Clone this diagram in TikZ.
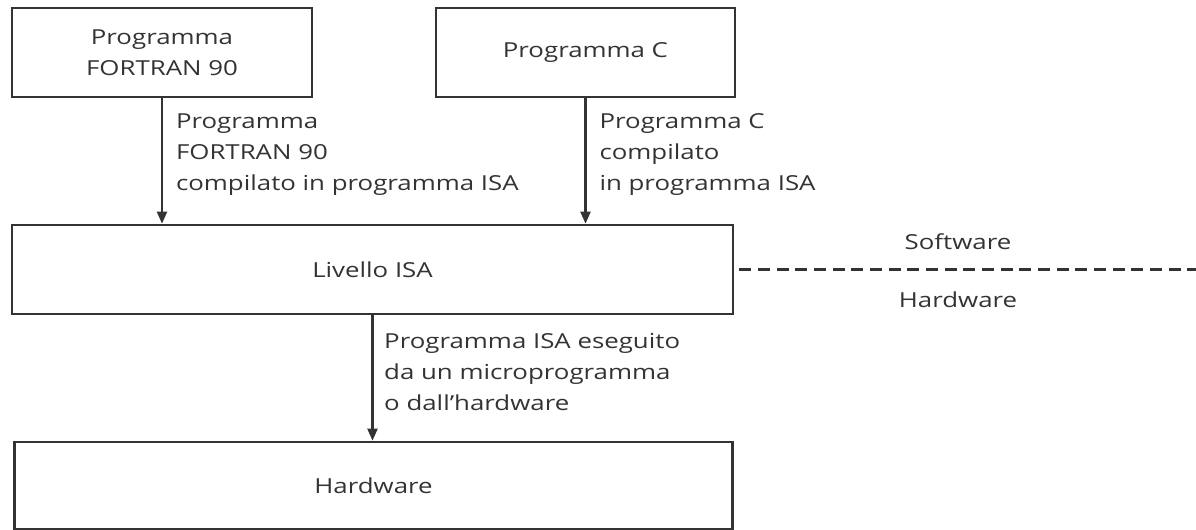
\documentclass[tikz,border=0pt]{standalone}
\usepackage{fontspec}
\setmainfont{Open Sans}[FakeStretch=1.25]
\usetikzlibrary{positioning,arrows.meta}
\definecolor{ink}{HTML}{333333}
\newcommand*{\txt}{\fontsize{15.5}{23.25}\selectfont}
\tikzset{>={Triangle[length=9pt,width=7.5pt]},
  box/.style={draw=ink,line width=2pt,text=ink,align=center,
    inner sep=0pt,font=\txt,minimum height=66.75pt},
  lbl/.style={text=ink,align=left,anchor=west,inner sep=0pt,font=\txt},
  flow/.style={->,draw=ink,line width=1.6pt},
  side/.style={text=ink,inner sep=0pt,font=\txt}}

\begin{document}
\begin{tikzpicture}[x=0.75pt,y=-0.75pt]
\useasboundingbox (0,0) rectangle (1196,529);
% Draw the four levels
\node[box,minimum width=225pt] (fortran) at (162,52.5)
  {Programma\\FORTRAN 90};
\node[box,minimum width=224.25pt] (progc) at (585.5,52.5)
  {Programma C};
\node[box,minimum width=540.75pt] (isa) at (372.5,269.5)
  {Livello ISA};
\node[box,minimum width=538.5pt,minimum height=65.25pt] (hw) at (373.5,485.5)
  {Hardware};

% Draw arrows between the levels
\draw[flow] (fortran.south) --
  node[lbl,pos=.45,xshift=9.75pt] {Programma\\FORTRAN 90\\compilato in programma ISA}
  (fortran.south |- isa.north);
\draw[flow] (progc.south) --
  node[lbl,pos=.45,xshift=9.75pt] {Programma C\\compilato\\in programma ISA}
  (progc.south |- isa.north);
\draw[flow] (isa.south) --
  node[lbl,pos=.45,xshift=8pt] {Programma ISA eseguito\\da un microprogramma\\o dall’hardware}
  (isa.south |- hw.north);

% Draw the software/hardware border
\coordinate (rim) at (1196,269.5);
\draw[draw=ink,line width=1.8pt,dash pattern=on 9pt off 5pt]
  ([xshift=3.75pt]isa.east) -- (rim);
\node[side] (sw) at (958,242) {Software};
\node[side] (hwtxt) at (958,300) {Hardware};
\end{tikzpicture}
\end{document}
